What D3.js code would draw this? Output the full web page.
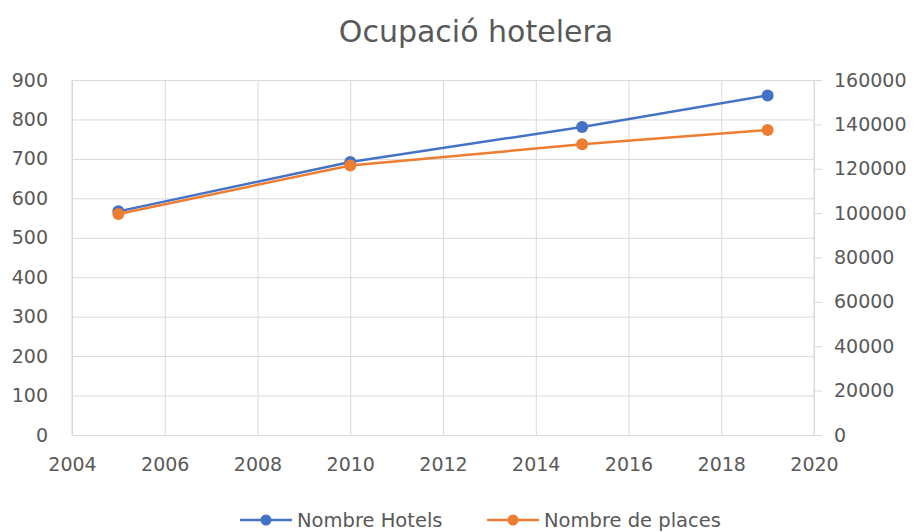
<!DOCTYPE html>
<html>
<head>
<meta charset="utf-8">
<script src="https://cdn.jsdelivr.net/npm/d3@7"></script>
<style>
  body { margin: 0; background: #fff; }
  text { font-family: "DejaVu Sans", "Open Sans", sans-serif; fill: #595959; }
</style>
</head>
<body>
<div id="chart"></div>
<script>
// data
var years = [2005, 2010, 2015, 2019]
var hotels = [567, 692, 781, 861]
var places = [99600, 121500, 131000, 137500]
var xTicks = [2004, 2006, 2008, 2010, 2012, 2014, 2016, 2018, 2020]
var leftTicks = [0, 100, 200, 300, 400, 500, 600, 700, 800, 900]
var rightTicks = [0, 20000, 40000, 60000, 80000, 100000, 120000, 140000, 160000]

var W = 915, H = 532
var margin = {top: 80, right: 101, bottom: 97, left: 72}
var width = W - margin.left - margin.right
var height = H - margin.top - margin.bottom

var blue = "#4472C4", orange = "#ED7D31", grid = "#d9d9d9"

var svg = d3.select("#chart").append("svg")
    .attr("width", W).attr("height", H)

svg.append("text")
    .attr("x", 476).attr("y", 42)
    .attr("text-anchor", "middle")
    .style("font-size", "30px")
    .text("Ocupació hotelera")

var g = svg.append("g")
    .attr("transform", "translate(" + margin.left + "," + margin.top + ")")

var x = d3.scaleLinear().domain([2004, 2020]).range([0, width])
var yL = d3.scaleLinear().domain([0, 900]).range([height, 0])
var yR = d3.scaleLinear().domain([0, 160000]).range([height, 0])

function styleTicks(a) {
    a.selectAll(".tick line").attr("stroke", grid)
    a.selectAll(".tick text").style("font-size", "19px").attr("fill", "#595959")
}

// horizontal grid + left labels
g.append("g")
    .call(d3.axisLeft(yL).tickValues(leftTicks).tickSize(-width).tickPadding(24))
    .call(function(a) {
        a.select(".domain").remove()
        styleTicks(a)
    })

// vertical grid
g.append("g")
    .attr("transform", "translate(0," + height + ")")
    .call(d3.axisBottom(x).tickValues(xTicks).tickSize(-height).tickPadding(23).tickFormat(d3.format("d")))
    .call(function(a) {
        a.select(".domain").remove()
        styleTicks(a)
    })

// right axis
g.append("g")
    .attr("transform", "translate(" + width + ",0)")
    .call(d3.axisRight(yR).tickValues(rightTicks).tickSize(8).tickPadding(12).tickFormat(d3.format("d")))
    .call(function(a) {
        a.select(".domain").attr("stroke", grid).attr("d", "M0,0V" + height)
        styleTicks(a)
    })

// left axis line
g.append("line")
    .attr("x1", 0).attr("x2", 0).attr("y1", 0).attr("y2", height)
    .attr("stroke", grid)

var series = [
    {name: "Nombre Hotels", values: hotels, y: yL, color: blue},
    {name: "Nombre de places", values: places, y: yR, color: orange}
]

series.forEach(function(s) {
    var pts = years.map(function(yr, i) { return [yr, s.values[i]] })
    g.append("path")
        .datum(pts)
        .attr("fill", "none")
        .attr("stroke", s.color)
        .attr("stroke-width", 2.5)
        .attr("d", d3.line()
            .x(function(d) { return x(d[0]) })
            .y(function(d) { return s.y(d[1]) }))
    g.selectAll(null)
        .data(pts)
        .enter()
        .append("circle")
        .attr("cx", function(d) { return x(d[0]) })
        .attr("cy", function(d) { return s.y(d[1]) })
        .attr("r", 6)
        .attr("fill", s.color)
})

// legend
var legX = [240, 487]
series.forEach(function(s, i) {
    var lg = svg.append("g").attr("transform", "translate(" + legX[i] + ",520)")
    lg.append("line").attr("x1", 0).attr("x2", 52).attr("y1", 0).attr("y2", 0)
        .attr("stroke", s.color).attr("stroke-width", 2.5)
    lg.append("circle").attr("cx", 26).attr("cy", 0).attr("r", 5.5).attr("fill", s.color)
    lg.append("text").attr("x", 57).attr("y", 0).attr("dy", "0.36em")
        .style("font-size", "19.5px").text(s.name)
})
</script>
</body>
</html>
